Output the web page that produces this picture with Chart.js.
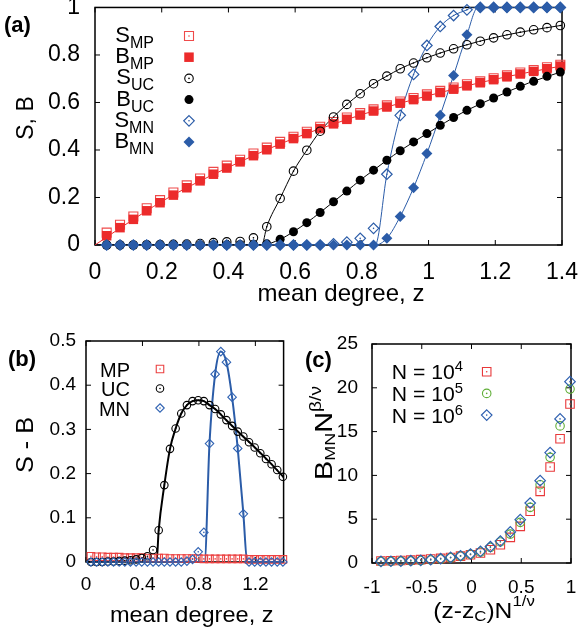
<!DOCTYPE html>
<html>
<head>
  <meta charset="UTF-8">
  <title>S, B vs mean degree</title>
  <script src="https://cdn.jsdelivr.net/npm/chart.js"></script>
  <style>
    body { margin: 0; padding: 0; background: #fff; }
    #wrap { position: relative; width: 579px; height: 638px; }
    canvas { position: absolute; }
    #chartA { left: 0; top: 0; }
    #chartB { left: 0; top: 320px; }
    #chartC { left: 290px; top: 320px; }
  </style>
</head>
<body>
<div id="wrap">
  <canvas id="chartA" width="579" height="320"></canvas>
  <canvas id="chartB" width="290" height="318"></canvas>
  <canvas id="chartC" width="289" height="318"></canvas>
</div>
<script>
// ---- panel (a): S and B vs mean degree ----
const aZ = [0.035, 0.075, 0.115, 0.155, 0.195, 0.235, 0.275, 0.315, 0.355, 0.395, 0.435, 0.475,
  0.515, 0.555, 0.595, 0.635, 0.675, 0.715, 0.755, 0.795, 0.835, 0.875, 0.915, 0.955, 0.995,
  1.035, 1.075, 1.115, 1.155, 1.195, 1.235, 1.275, 1.315, 1.355, 1.395];
const sMP = [0.052, 0.085, 0.12, 0.155, 0.189, 0.221, 0.251, 0.28, 0.308, 0.334, 0.359, 0.385,
  0.41, 0.434, 0.456, 0.477, 0.498, 0.518, 0.537, 0.555, 0.571, 0.588, 0.604, 0.619, 0.634,
  0.649, 0.663, 0.677, 0.689, 0.702, 0.714, 0.726, 0.737, 0.748, 0.759];
const bMP = [0.039, 0.073, 0.108, 0.144, 0.178, 0.21, 0.241, 0.27, 0.298, 0.324, 0.35, 0.376,
  0.401, 0.425, 0.448, 0.469, 0.49, 0.51, 0.529, 0.547, 0.564, 0.581, 0.597, 0.612, 0.627,
  0.642, 0.656, 0.67, 0.683, 0.696, 0.708, 0.72, 0.731, 0.742, 0.753];
const sUC = [0, 0, 0, 0.001, 0.002, 0.003, 0.004, 0.006, 0.01, 0.013, 0.015, 0.03,
  0.077, 0.196, 0.311, 0.399, 0.479, 0.539, 0.592, 0.637, 0.679, 0.711, 0.742, 0.766, 0.788,
  0.808, 0.826, 0.843, 0.858, 0.872, 0.885, 0.896, 0.906, 0.915, 0.924];
const bUC = [0, 0, 0, 0, 0, 0, 0, 0, 0.001, 0.001, 0.002, 0.003,
  0.005, 0.024, 0.056, 0.094, 0.137, 0.182, 0.227, 0.273, 0.315, 0.357, 0.397, 0.434, 0.469,
  0.504, 0.537, 0.567, 0.595, 0.619, 0.644, 0.668, 0.689, 0.71, 0.728];
const sMN = [0, 0, 0, 0, 0, 0, 0, 0, 0, 0, 0, 0,
  0, 0, 0, 0, 0, 0.005, 0.012, 0.028, 0.07, 0.298, 0.546, 0.718, 0.84,
  0.92, 0.966, 0.99, 1, 1, 1, 1, 1, 1, 1];
const bMN = [0, 0, 0, 0, 0, 0, 0, 0, 0, 0, 0, 0,
  0, 0, 0, 0, 0, 0, 0, 0, 0, 0.028, 0.12, 0.241, 0.385,
  0.546, 0.714, 0.885, 1, 1, 1, 1, 1, 1, 1];

// theory curves of panel (a)
const mpLineZ = [0, 0.1, 0.2, 0.3, 0.4, 0.5, 0.6, 0.7, 0.8, 0.9, 1.0, 1.1, 1.2, 1.3, 1.4];
const mpLineV = [0, 0.094, 0.183, 0.259, 0.327, 0.392, 0.451, 0.502, 0.549, 0.591, 0.629, 0.665, 0.698, 0.727, 0.754];
const ucSLineZ = [0, 0.5, 0.515, 0.555, 0.595, 0.635, 0.675, 0.715, 0.755, 0.795, 0.835, 0.875, 0.915, 1.0, 1.1, 1.2, 1.3, 1.4];
const ucSLineV = [0, 0, 0.077, 0.196, 0.311, 0.399, 0.479, 0.539, 0.592, 0.637, 0.679, 0.711, 0.742, 0.791, 0.837, 0.874, 0.902, 0.925];
const ucBLineZ = [0, 0.5, 0.555, 0.595, 0.635, 0.675, 0.715, 0.755, 0.795, 0.835, 0.875, 0.915, 1.0, 1.1, 1.2, 1.3, 1.4];
const ucBLineV = [0, 0, 0.024, 0.056, 0.094, 0.137, 0.182, 0.227, 0.273, 0.315, 0.357, 0.397, 0.473, 0.556, 0.622, 0.682, 0.73];
const mnSLineZ = [0, 0.84, 0.875, 0.915, 0.955, 0.995, 1.035, 1.075, 1.115, 1.13, 1.4];
const mnSLineV = [0, 0, 0.298, 0.546, 0.718, 0.84, 0.92, 0.966, 0.99, 1, 1];
const mnBLineZ = [0, 0.84, 0.875, 0.915, 0.955, 0.995, 1.035, 1.075, 1.115, 1.148, 1.4];
const mnBLineV = [0, 0, 0.028, 0.12, 0.241, 0.385, 0.546, 0.714, 0.885, 1, 1];

// ---- panel (b): S - B ----
const mpDiff = [0.013, 0.012, 0.012, 0.011, 0.011, 0.011, 0.01, 0.01, 0.01, 0.01, 0.009, 0.009,
  0.009, 0.009, 0.008, 0.008, 0.008, 0.008, 0.008, 0.008, 0.007, 0.007, 0.007, 0.007, 0.007,
  0.007, 0.007, 0.007, 0.006, 0.006, 0.006, 0.006, 0.006, 0.006, 0.006];
const ucDiff = [0, 0, 0, 0.001, 0.001, 0.002, 0.003, 0.004, 0.006, 0.009, 0.013, 0.027,
  0.072, 0.174, 0.256, 0.302, 0.336, 0.355, 0.364, 0.366, 0.364, 0.355, 0.346, 0.334, 0.321,
  0.308, 0.295, 0.284, 0.271, 0.259, 0.246, 0.233, 0.221, 0.208, 0.193];
const mnDiff = [0, 0, 0, 0, 0, 0, 0, 0, 0, 0, 0, 0,
  0, 0, 0, 0, 0, 0.002, 0.006, 0.023, 0.067, 0.268, 0.425, 0.476, 0.452,
  0.373, 0.257, 0.109, 0, 0, 0, 0, 0, 0, 0];
const ucDiffLineZ = [0, 0.5, 0.515, 0.555, 0.595, 0.635, 0.675, 0.715, 0.755, 0.795, 0.835, 0.875, 0.915, 1.0, 1.1, 1.2, 1.3, 1.4];
const ucDiffLineV = [0, 0, 0.072, 0.174, 0.256, 0.302, 0.336, 0.355, 0.364, 0.366, 0.364, 0.355, 0.346, 0.319, 0.288, 0.258, 0.226, 0.192];
const mnDiffLineZ = [0, 0.84, 0.875, 0.915, 0.955, 0.995, 1.035, 1.075, 1.115, 1.142, 1.4];
const mnDiffLineV = [0, 0, 0.268, 0.425, 0.476, 0.452, 0.373, 0.257, 0.109, 0, 0];

// ---- panel (c): finite size scaling ----
const cX = [-0.91, -0.81, -0.71, -0.61, -0.51, -0.41, -0.31, -0.21, -0.11, -0.01,
  0.09, 0.19, 0.29, 0.39, 0.49, 0.59, 0.69, 0.79, 0.89, 0.99];
const cN4 = [0.22, 0.25, 0.28, 0.33, 0.38, 0.45, 0.53, 0.63, 0.78, 0.95,
  1.14, 1.52, 2.09, 2.93, 4.18, 5.9, 8.18, 10.96, 14.19, 18.15];
const cN5 = [0.17, 0.19, 0.21, 0.24, 0.28, 0.35, 0.45, 0.6, 0.8, 1.0,
  1.25, 1.78, 2.4, 3.3, 4.64, 6.35, 8.94, 12.06, 15.65, 19.85];
const cN6 = [0.18, 0.2, 0.22, 0.26, 0.3, 0.38, 0.49, 0.64, 0.83, 1.03,
  1.33, 1.86, 2.5, 3.55, 4.95, 6.85, 9.4, 12.6, 16.45, 20.7];

// tick values
const aXTicks = [0, 0.2, 0.4, 0.6, 0.8, 1, 1.2, 1.4];
const aYTicks = [0, 0.2, 0.4, 0.6, 0.8, 1];
const bXTicks = [0, 0.4, 0.8, 1.2];
const bYTicks = [0, 0.1, 0.2, 0.3, 0.4, 0.5];
const cXTicks = [-1, -0.5, 0, 0.5, 1];
const cYTicks = [0, 5, 10, 15, 20, 25];

const FONT = '"Liberation Sans", Arial, Helvetica, sans-serif';
Chart.defaults.font.family = FONT;
Chart.defaults.color = '#000';

const RED = '#ec2b2b', BLUE = '#2b5ca8', GREEN = '#5fae36';

function pts(xs, ys) {
  return xs.map((x, i) => ({ x: x, y: ys[i] }));
}

// marker spec: shape, size (square side / circle diameter / diamond height), colour, filled
function mark(shape, size, color, filled, lw) {
  return { shape: shape, size: size, color: color, filled: filled, lw: lw || 1.1 };
}
const NATIVE = { square: 'rect', circle: 'circle', diamond: 'rectRot' };
function radiusOf(m) {
  if (m.shape === 'square') return m.size / Math.SQRT2;
  return m.size / 2;
}

// hollow gnuplot markers also get a small centre dot (a second, tiny point set)
function pointSet(data, m, order) {
  const sets = [{
    data: data, pointStyle: NATIVE[m.shape], pointRadius: radiusOf(m),
    pointBackgroundColor: m.filled ? m.color : 'rgba(0,0,0,0)',
    pointBorderColor: m.color, pointBorderWidth: m.filled ? 0 : m.lw,
    showLine: false, clip: false, order: order
  }];
  if (!m.filled) {
    sets.push({
      data: data, pointStyle: 'circle', pointRadius: 0.8, pointBackgroundColor: m.color,
      pointBorderWidth: 0, showLine: false, clip: false, order: order - 0.5
    });
  }
  return sets;
}
function lineSet(data, color, width) {
  return { data: data, showLine: true, pointRadius: 0, borderColor: color, borderWidth: width,
    cubicInterpolationMode: 'monotone', fill: false, order: 50 };
}

function drawMark(ctx, m, x, y) {
  const h = m.size / 2;
  ctx.save();
  ctx.beginPath();
  if (m.shape === 'square') ctx.rect(x - h, y - h, m.size, m.size);
  else if (m.shape === 'circle') ctx.arc(x, y, h, 0, Math.PI * 2);
  else { ctx.moveTo(x, y - h); ctx.lineTo(x + h, y); ctx.lineTo(x, y + h); ctx.lineTo(x - h, y); ctx.closePath(); }
  if (m.filled) {
    ctx.fillStyle = m.color; ctx.fill();
  } else {
    ctx.lineWidth = m.lw; ctx.strokeStyle = m.color; ctx.stroke();
    ctx.beginPath(); ctx.arc(x, y, 0.8, 0, Math.PI * 2); ctx.fillStyle = m.color; ctx.fill();
  }
  ctx.restore();
}

function drawRich(ctx, t) {
  ctx.save();
  ctx.translate(t.x, t.y);
  if (t.rot) ctx.rotate(t.rot);
  ctx.scale(t.sx || 1, 1);
  ctx.fillStyle = '#000';
  ctx.textBaseline = 'alphabetic';
  ctx.textAlign = 'left';
  const fontOf = p => (p[3] || 'normal') + ' ' + p[1] + 'px ' + FONT;
  let w = 0;
  t.parts.forEach(p => { ctx.font = fontOf(p); w += ctx.measureText(p[0]).width; });
  let cx = t.align === 'right' ? -w : t.align === 'center' ? -w / 2 : 0;
  t.parts.forEach(p => {
    ctx.font = fontOf(p);
    ctx.fillText(p[0], cx, p[2] || 0);
    cx += ctx.measureText(p[0]).width;
  });
  ctx.restore();
}

function drawFrame(chart) {
  const ctx = chart.ctx, a = chart.chartArea, x = chart.scales.x, y = chart.scales.y;
  const T = 5;
  ctx.save();
  ctx.strokeStyle = '#000';
  ctx.lineWidth = 1;
  ctx.beginPath();
  x.ticks.forEach(t => {
    const p = x.getPixelForValue(t.value);
    ctx.moveTo(p, a.bottom); ctx.lineTo(p, a.bottom - T);
    ctx.moveTo(p, a.top); ctx.lineTo(p, a.top + T);
  });
  y.ticks.forEach(t => {
    const p = y.getPixelForValue(t.value);
    ctx.moveTo(a.left, p); ctx.lineTo(a.left + T, p);
    ctx.moveTo(a.right, p); ctx.lineTo(a.right - T, p);
  });
  ctx.stroke();
  ctx.lineWidth = 1.5;
  ctx.strokeRect(a.left, a.top, a.right - a.left, a.bottom - a.top);
  ctx.restore();
}

function makePanel(id, box, xr, yr, xTicks, yTicks, fontSize, pad, datasets, texts, legend) {
  const canvas = document.getElementById(id);
  const W = canvas.width, H = canvas.height;
  const decor = {
    id: 'decor',
    beforeDatasetsDraw(chart) { drawFrame(chart); },
    afterDraw(chart) {
      const ctx = chart.ctx;
      texts.forEach(t => drawRich(ctx, t));
      legend.rows.forEach((r, i) => {
        const y = legend.y0 + legend.dy * i;
        drawRich(ctx, { parts: r.parts, x: legend.tx, y: y + legend.base, align: 'right', sx: legend.sx });
        drawMark(ctx, r.marker, legend.mx, y);
      });
    }
  };
  return new Chart(canvas, {
    type: 'scatter',
    data: { datasets: datasets.flat() },
    options: {
      responsive: false,
      animation: false,
      layout: { padding: { left: 0, top: box.top, right: W - box.right, bottom: 0 } },
      plugins: { legend: { display: false }, tooltip: { enabled: false } },
      scales: {
        x: {
          type: 'linear', min: xr[0], max: xr[1],
          grid: { display: false }, border: { display: false },
          afterBuildTicks: s => { s.ticks = xTicks.map(v => ({ value: v })); },
          afterFit: s => { s.height = H - box.bottom; s.paddingLeft = 0; s.paddingRight = 0; },
          ticks: { autoSkip: false, maxRotation: 0, padding: pad.x, font: { size: fontSize }, callback: v => String(v) }
        },
        y: {
          type: 'linear', min: yr[0], max: yr[1],
          grid: { display: false }, border: { display: false },
          afterBuildTicks: s => { s.ticks = yTicks.map(v => ({ value: v })); },
          afterFit: s => { s.width = box.left; s.paddingTop = 0; s.paddingBottom = 0; },
          ticks: { autoSkip: false, padding: pad.y, font: { size: fontSize }, callback: v => String(v) }
        }
      }
    },
    plugins: [decor]
  });
}

// ---------- panel (a) ----------
const mA = {
  sMP: mark('square', 9, '#ef4a4a', false),
  bMP: mark('square', 9.5, RED, true),
  sUC: mark('circle', 8.5, '#000', false),
  bUC: mark('circle', 9, '#000', true),
  sMN: mark('diamond', 10.5, BLUE, false, 1.2),
  bMN: mark('diamond', 11, BLUE, true)
};
makePanel('chartA', { left: 95, right: 562, top: 7, bottom: 245 }, [0, 1.4], [0, 1],
  aXTicks, aYTicks, 23, { x: 6, y: 7 },
  [
    lineSet(pts(mpLineZ, mpLineV), RED, 1),
    lineSet(pts(ucSLineZ, ucSLineV), '#000', 1),
    lineSet(pts(ucBLineZ, ucBLineV), '#000', 1),
    lineSet(pts(mnSLineZ, mnSLineV), BLUE, 1),
    lineSet(pts(mnBLineZ, mnBLineV), BLUE, 1),
    pointSet(pts(aZ, sMP), mA.sMP, 12),
    pointSet(pts(aZ, bMP), mA.bMP, 10),
    pointSet(pts(aZ, sUC), mA.sUC, 8),
    pointSet(pts(aZ, bUC), mA.bUC, 6),
    pointSet(pts(aZ, sMN), mA.sMN, 4),
    pointSet(pts(aZ, bMN), mA.bMN, 2)
  ],
  [
    { parts: [['(a)', 22, 0, 'bold']], x: 4, y: 32, align: 'left' },
    { parts: [['mean degree, z', 24, 0]], x: 341, y: 301, align: 'center' },
    { parts: [['S, B', 23, 0]], x: 33, y: 118, align: 'center', rot: -Math.PI / 2 }
  ],
  {
    tx: 154, mx: 189, y0: 36, dy: 21.2, base: 6, sx: 1,
    rows: [
      { parts: [['S', 22, 0], ['MP', 16, 6]], marker: mA.sMP },
      { parts: [['B', 22, 0], ['MP', 16, 6]], marker: mA.bMP },
      { parts: [['S', 22, 0], ['UC', 16, 6]], marker: mA.sUC },
      { parts: [['B', 22, 0], ['UC', 16, 6]], marker: mA.bUC },
      { parts: [['S', 22, 0], ['MN', 16, 6]], marker: mA.sMN },
      { parts: [['B', 22, 0], ['MN', 16, 6]], marker: mA.bMN }
    ]
  });

// ---------- panel (b) ----------
const mB = {
  mp: mark('square', 7.5, '#ec4040', false),
  uc: mark('circle', 7.5, '#000', false),
  mn: mark('diamond', 8.5, '#3063b3', false)
};
makePanel('chartB', { left: 86, right: 285, top: 21, bottom: 242 }, [0, 1.4], [0, 0.5],
  bXTicks, bYTicks, 19, { x: 3, y: 2 },
  [
    lineSet(pts(ucDiffLineZ, ucDiffLineV), '#000', 2),
    lineSet(pts(mnDiffLineZ, mnDiffLineV), BLUE, 2),
    pointSet(pts(aZ, mpDiff), mB.mp, 6),
    pointSet(pts(aZ, ucDiff), mB.uc, 4),
    pointSet(pts(aZ, mnDiff), mB.mn, 2)
  ],
  [
    { parts: [['(b)', 22, 0, 'bold']], x: 8, y: 46, align: 'left' },
    { parts: [['mean degree, z', 22, 0]], x: 191.7, y: 301.7, align: 'center', sx: 1.07 },
    { parts: [['S - B', 23, 0]], x: 33, y: 125, align: 'center', rot: -Math.PI / 2, sx: 1.1 }
  ],
  {
    tx: 130, mx: 160, y0: 49, dy: 19.5, base: 7.5, sx: 1,
    rows: [
      { parts: [['MP', 20, 0]], marker: mB.mp },
      { parts: [['UC', 20, 0]], marker: mB.uc },
      { parts: [['MN', 20, 0]], marker: mB.mn }
    ]
  });

// ---------- panel (c) ----------
const mC = {
  n4: mark('square', 8.5, '#e8383a', false),
  n5: mark('circle', 8.5, GREEN, false),
  n6: mark('diamond', 10.5, '#2d5fb0', false, 1.2)
};
makePanel('chartC', { left: 82, right: 281, top: 24, bottom: 243 }, [-1, 1], [0, 25],
  cXTicks, cYTicks, 19, { x: 5, y: 6 },
  [
    pointSet(pts(cX, cN4), mC.n4, 6),
    pointSet(pts(cX, cN5), mC.n5, 4),
    pointSet(pts(cX, cN6), mC.n6, 2)
  ],
  [
    { parts: [['(c)', 22, 0, 'bold']], x: 15, y: 47, align: 'left' },
    { parts: [['(z-z', 22, 0], ['C', 15, 3], [')N', 22, 0], ['1/\u03bd', 15, -12]], x: 194, y: 298, align: 'center', sx: 1.12 },
    { parts: [['B', 24, 0], ['MN', 15, 3], ['N', 24, 0], ['\u03b2/\u03bd', 16, -11]], x: 41.7, y: 113, align: 'center', rot: -Math.PI / 2, sx: 1.2 }
  ],
  {
    tx: 173, mx: 196.7, y0: 51.7, dy: 21.7, base: 7.6, sx: 1.06,
    rows: [
      { parts: [['N = 10', 20, 0], ['4', 14, -8]], marker: mC.n4 },
      { parts: [['N = 10', 20, 0], ['5', 14, -8]], marker: mC.n5 },
      { parts: [['N = 10', 20, 0], ['6', 14, -8]], marker: mC.n6 }
    ]
  });
</script>
</body>
</html>
